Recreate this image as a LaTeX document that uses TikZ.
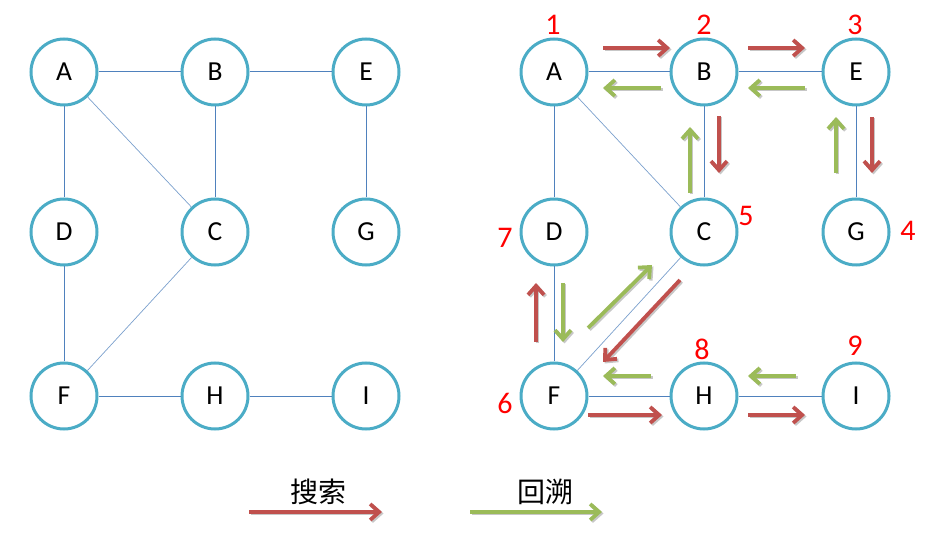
\documentclass[tikz,border=0pt]{standalone}
\usepackage{fontspec}
\setmainfont{Carlito}
\newfontfamily\cjk{Noto Sans CJK SC}
\usetikzlibrary{arrows.meta}
\definecolor{nodec}{HTML}{4BACC6}
\definecolor{edgec}{HTML}{4F81BD}
\definecolor{redc}{HTML}{C0504D}
\definecolor{greenc}{HTML}{9BBB59}
\newcommand\sarr[3]{%
  \draw[harrow,black,opacity=0.22,shift={(1.5,1.5)}] #2 -- #3;
  \draw[harrow,#1] #2 -- #3;}
\begin{document}
\begin{tikzpicture}[x=1pt,y=-1pt,
  vnode/.style={circle,draw=nodec,line width=3pt,minimum size=66pt,inner sep=0pt,fill=white,font=\fontsize{27.5}{27.5}\selectfont},
  edge/.style={draw=edgec,line width=1pt},
  dedge/.style={draw=edgec!75,line width=0.7pt},
  num/.style={text=red,font=\fontsize{30}{30}\selectfont},
  harrow/.style={line width=3.8pt,-{Straight Barb[length=9pt,width=16pt]}},
  legend/.style={font=\cjk\fontsize{28}{28}\selectfont}
]
\useasboundingbox (0,0) rectangle (934,534);
% left graph
\node[vnode] (A) at (64,72) {A};
\node[vnode] (B) at (215,72) {B};
\node[vnode] (E) at (366,72) {E};
\node[vnode] (D) at (64,232) {D};
\node[vnode] (C) at (215,232) {C};
\node[vnode] (G) at (366,232) {G};
\node[vnode] (F) at (64,396) {F};
\node[vnode] (H) at (215,396) {H};
\node[vnode] (I) at (366,396) {I};
% right graph
\node[vnode] (A2) at (554,72) {A};
\node[vnode] (B2) at (704,72) {B};
\node[vnode] (E2) at (856,72) {E};
\node[vnode] (D2) at (554,232) {D};
\node[vnode] (C2) at (704,232) {C};
\node[vnode] (G2) at (856,232) {G};
\node[vnode] (F2) at (554,396) {F};
\node[vnode] (H2) at (704,396) {H};
\node[vnode] (I2) at (856,396) {I};
% edges
\foreach \s in {,2}{
  \draw[edge] (A\s) -- (B\s);
  \draw[edge] (B\s) -- (E\s);
  \draw[edge] (A\s) -- (D\s);
  \draw[edge] (B\s) -- (C\s);
  \draw[edge] (E\s) -- (G\s);
  \draw[edge] (D\s) -- (F\s);
  \draw[edge] (F\s) -- (H\s);
  \draw[edge] (H\s) -- (I\s);
  \draw[dedge] (A\s) -- (C\s);
  \draw[dedge] (C\s) -- (F\s);
}
% order numbers
\node[num] (n1) at (553,25) {1};
\node[num] (n2) at (704,25) {2};
\node[num] (n3) at (855,25) {3};
\node[num] (n4) at (908,231) {4};
\node[num] (n5) at (746,216) {5};
\node[num] (n6) at (505,403) {6};
\node[num] (n7) at (505,238) {7};
\node[num] (n8) at (702,349) {8};
\node[num] (n9) at (855,346) {9};
% traversal arrows
\sarr{redc}{(603,48)}{(670,48)}
\sarr{greenc}{(661,88)}{(603,88)}
\sarr{redc}{(748,48)}{(805,48)}
\sarr{greenc}{(805,88)}{(748,88)}
\sarr{redc}{(719,116)}{(719,173)}
\sarr{greenc}{(690,193)}{(690,127)}
\sarr{greenc}{(836,173)}{(836,117)}
\sarr{redc}{(872,117)}{(872,173)}
\sarr{redc}{(536,342)}{(536,283)}
\sarr{greenc}{(563,283)}{(563,342)}
\sarr{greenc}{(588,328)}{(652,265)}
\sarr{redc}{(680,280)}{(603,362)}
\sarr{greenc}{(651,376)}{(603,376)}
\sarr{greenc}{(796,376)}{(748,376)}
\sarr{redc}{(588,415)}{(662,415)}
\sarr{redc}{(748,415)}{(805,415)}
% legend
\sarr{redc}{(249,512)}{(382,512)}
\sarr{greenc}{(470,512)}{(602,512)}
\node[legend] (l1) at (318,492) {搜索};
\node[legend] (l2) at (545,492) {回溯};
\end{tikzpicture}
\end{document}
